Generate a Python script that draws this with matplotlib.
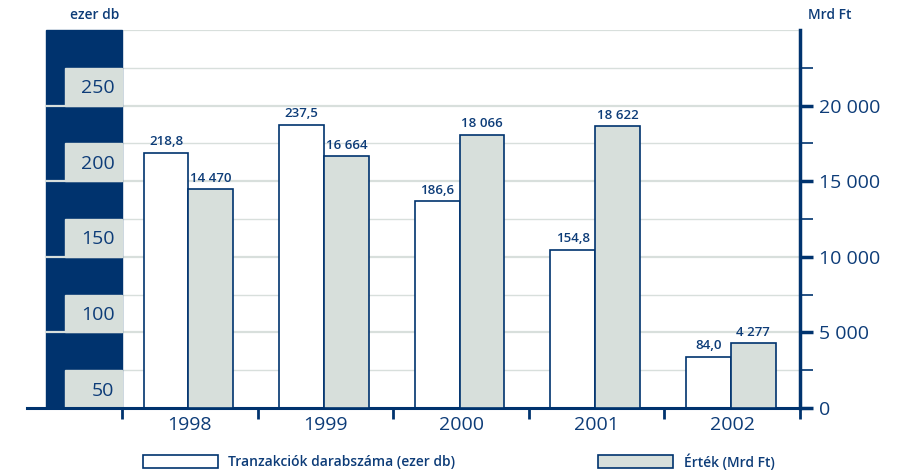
import matplotlib.pyplot as plt
import matplotlib.transforms as mtransforms
from matplotlib.patches import Rectangle
from matplotlib.lines import Line2D

plt.rcParams['font.family'] = ['Open Sans', 'DejaVu Sans']

# data
years = ['1998', '1999', '2000', '2001', '2002']
counts = [218.8, 237.5, 186.6, 154.8, 84.0]          # ezer db
values = [14470, 16664, 18066, 18622, 4277]           # Mrd Ft
left_labels = [50, 100, 150, 200, 250]
right_ticks = [0, 5000, 10000, 15000, 20000]

navy = '#00336e'
txt = '#0d3c78'
grey = '#d7dfdb'
gridc = '#d8dfdc'


def fmt_thousands(v):
    return f'{v:,.0f}'.replace(',', ' ')


fig = plt.figure(figsize=(9.06, 4.76), dpi=100)
ax = fig.add_axes([122 / 906, 68 / 476, 678 / 906, 378 / 476])
ax2 = ax.twinx()

x = list(range(len(years)))
w = 0.33

# gridlines (left units: 50 + right/100)
for k in range(1, 11):
    y = 50 + k * 25
    major = (k % 2 == 0)
    ax.axhline(y, color=gridc, lw=1.6 if major else 1.0, zorder=0)

# navy panel with label boxes on the left
tr = mtransforms.blended_transform_factory(ax.transAxes, ax.transData)
ax.add_patch(Rectangle((-0.112, 50), 0.112, 250, transform=tr, color=navy,
                       clip_on=False, zorder=1))
for v in left_labels:
    ax.add_patch(Rectangle((-0.084, v), 0.084, 25, transform=tr, color=grey,
                           clip_on=False, zorder=2))
    ax.text(-0.011, v + 11.5, str(v), transform=tr, ha='right', va='center',
            fontsize=14, color=txt, zorder=3)
    if v > 50:
        ax.add_line(Line2D([-0.112, 0], [v, v], transform=tr, color=gridc,
                           lw=1.6, clip_on=False, zorder=2))

# bars
ax.bar([i - w / 2 - 0.01 for i in x], counts, width=w, bottom=0, color='white',
       edgecolor=navy, lw=1.2, zorder=3)
ax2.bar([i + w / 2 - 0.01 for i in x], values, width=w, color=grey,
        edgecolor=navy, lw=1.2, zorder=3)

for i, c in enumerate(counts):
    ax.text(i - w / 2 - 0.01, c + 3, f'{c:.1f}'.replace('.', ','), ha='center',
            va='bottom', fontsize=9.5, fontweight='semibold', color=txt, zorder=4)
for i, v in enumerate(values):
    ax2.text(i + w / 2 - 0.01, v + 300, fmt_thousands(v), ha='center',
             va='bottom', fontsize=9.5, fontweight='semibold', color=txt, zorder=4)

ax.set_xlim(-0.5, len(years) - 0.5)
ax.set_ylim(50, 300)
ax2.set_ylim(0, 25000)

# x axis: boundary ticks, year labels in between
ax.set_xticks([i - 0.5 for i in range(len(years) + 1)])
ax.set_xticklabels([])
ax.set_xticks(x, minor=True)
ax.set_xticklabels(years, minor=True)
ax.tick_params(axis='x', which='major', direction='out', length=8, width=2,
               color=navy)
ax.tick_params(axis='x', which='minor', length=0, pad=6, labelsize=14,
               labelcolor=txt)
ax.set_yticks([])

# right axis
ax2.set_yticks(right_ticks)
ax2.set_yticklabels([fmt_thousands(t) for t in right_ticks])
ax2.set_yticks([2500, 7500, 12500, 17500, 22500], minor=True)
ax2.tick_params(axis='y', which='major', direction='out', length=9, width=2.5,
                color=navy, labelsize=14, labelcolor=txt, pad=5)
ax2.tick_params(axis='y', which='minor', direction='out', length=9, width=1.2,
                color=navy)

for s in ['top', 'left', 'right', 'bottom']:
    ax.spines[s].set_visible(False)
    ax2.spines[s].set_visible(False)
ax2.spines['right'].set_visible(True)
ax2.spines['right'].set_color(navy)
ax2.spines['right'].set_linewidth(2.5)

# bottom axis line, extended to the left
ax.add_line(Line2D([-0.14, 1], [50, 50], transform=tr, color=navy, lw=2.2,
                   clip_on=False, zorder=5))

# axis titles
fig.text(70 / 906, 1 - 15 / 476, 'ezer db', fontsize=10, fontweight='semibold',
         color=txt, va='center', ha='left')
fig.text(808 / 906, 1 - 15 / 476, 'Mrd Ft', fontsize=10, fontweight='semibold',
         color=txt, va='center', ha='left')

# legend
fig.patches.append(Rectangle((143 / 906, 1 - 468 / 476), 75 / 906, 13 / 476,
                             transform=fig.transFigure, facecolor='white',
                             edgecolor=navy, lw=1.2))
fig.text(228 / 906, 1 - 462 / 476, 'Tranzakciók darabszáma (ezer db)',
         fontsize=10, fontweight='semibold', color=txt, va='center')
fig.patches.append(Rectangle((598 / 906, 1 - 468 / 476), 75 / 906, 13 / 476,
                             transform=fig.transFigure, facecolor=grey,
                             edgecolor=navy, lw=1.2))
fig.text(684 / 906, 1 - 462 / 476, 'Érték (Mrd Ft)',
         fontsize=10, fontweight='semibold', color=txt, va='center')

fig.savefig('out.png', dpi=100)
